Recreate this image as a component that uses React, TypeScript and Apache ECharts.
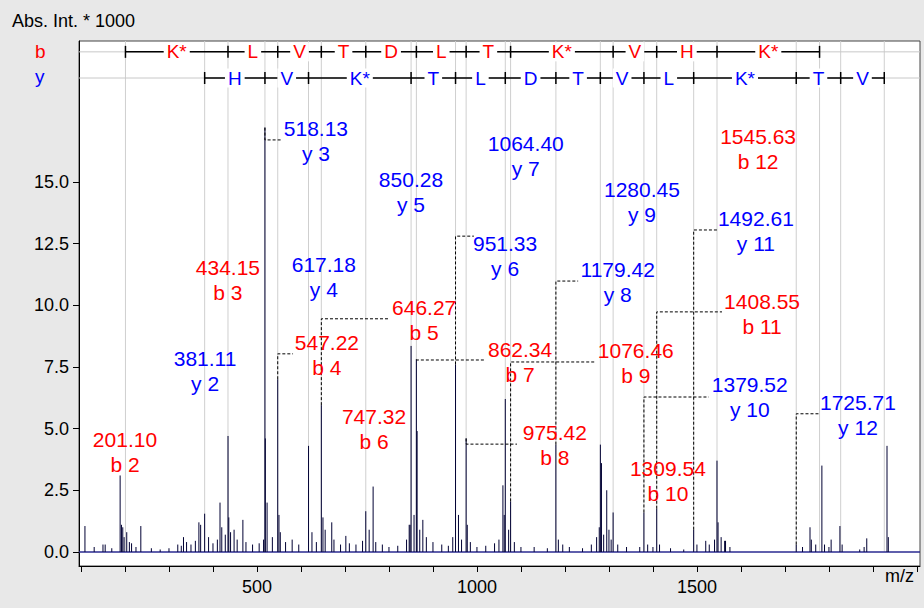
import React, { useEffect, useRef } from 'react';
import * as echarts from 'echarts';

// 主峰 [m/z, 强度(*1000)]
const mainPeaks: number[][] = [
  [109, 1.05], [155, 0.3], [189, 3.1], [192, 1.1], [204, 0.8], [236, 1.05],
  [333, 0.6], [368, 1.2], [381.1, 1.55], [416, 2.0], [434.2, 4.7], [436, 1.4],
  [448, 0.9], [468, 1.3], [518.1, 17.2], [519, 4.6], [547.2, 7.0], [550, 1.5],
  [617.2, 4.3], [646.3, 5.95], [650, 1.4], [670, 1.2], [702, 0.65], [747.3, 1.65],
  [764, 2.65], [846, 1.1], [850.3, 8.35], [862.3, 7.8], [864, 4.9], [877, 1.3],
  [951.3, 7.6], [975.4, 4.6], [978, 1.1], [1059, 2.7], [1064.4, 6.2], [1076.5, 2.05],
  [1179.4, 4.35], [1280.5, 4.35], [1283, 3.6], [1295, 2.5], [1309.5, 1.6],
  [1379.5, 1.6], [1408.6, 1.75], [1492.6, 0.9], [1545.6, 3.7], [1548, 1.2],
  [1563, 0.45], [1725.7, 0.3], [1757, 1.0], [1784, 3.5], [1805, 0.5], [1825, 1.05],
  [1886, 0.55], [1932, 4.3],
];

// 基线噪声峰
const noisePeaks: number[][] = [
  [130, 0.2], [150, 0.3], [170, 0.15], [195, 1.0], [198, 0.6], [210, 0.4], [215, 0.35],
  [225, 0.2], [260, 0.15], [280, 0.1], [300, 0.15], [320, 0.3], [328, 0.25], [340, 0.4],
  [350, 0.3], [360, 0.45], [372, 1.1], [390, 0.6], [400, 0.35], [410, 0.5], [420, 1.0],
  [428, 0.7], [440, 0.8], [455, 0.5], [475, 0.4], [490, 0.3], [505, 0.35], [515, 0.5],
  [523, 2.0], [535, 0.6], [553, 0.8], [565, 0.4], [580, 0.5], [595, 0.3], [625, 0.8],
  [635, 0.4], [655, 0.9], [675, 0.5], [690, 0.3], [710, 0.35], [725, 0.3], [740, 0.45],
  [755, 0.9], [770, 0.4], [785, 0.3], [800, 0.2], [820, 0.25], [840, 0.5], [848, 1.1],
  [857, 1.5], [870, 0.9], [885, 0.6], [900, 0.4], [920, 0.3], [935, 0.25], [945, 0.6],
  [958, 1.5], [965, 0.5], [985, 0.4], [1000, 0.2], [1020, 0.25], [1040, 0.35], [1050, 0.5],
  [1062, 1.5], [1072, 0.9], [1085, 0.4], [1100, 0.2], [1130, 0.2], [1160, 0.15], [1185, 0.5],
  [1195, 0.3], [1210, 0.2], [1240, 0.15], [1260, 0.3], [1272, 0.6], [1278, 1.0], [1288, 0.7],
  [1300, 0.9], [1305, 0.5], [1320, 0.3], [1340, 0.2], [1370, 0.2], [1388, 0.3], [1400, 0.2],
  [1415, 0.3], [1440, 0.15], [1470, 0.1], [1500, 0.3], [1520, 0.45], [1528, 0.3], [1540, 0.5],
  [1555, 0.6], [1565, 0.45], [1575, 0.2], [1740, 0.2], [1760, 0.5], [1770, 0.3], [1790, 0.3],
  [1800, 0.2], [1830, 0.3], [1870, 0.1], [1880, 0.2], [1935, 0.6],
];

// 序列梯
const bIons = [201.10, 434.15, 547.22, 646.27, 747.32, 862.34, 975.42, 1076.46, 1309.54, 1408.55, 1545.63, 1778.7];
const bResidues = ['K*', 'L', 'V', 'T', 'D', 'L', 'T', 'K*', 'V', 'H', 'K*'];
const yIons = [381.11, 518.13, 617.18, 850.28, 951.33, 1064.40, 1179.42, 1280.45, 1379.52, 1492.61, 1725.71, 1826.7, 1925.8];
const yResidues = ['H', 'V', 'K*', 'T', 'L', 'D', 'T', 'V', 'L', 'K*', 'T', 'V'];

// 标注: [文字, 系列, 标签m/z, 标签顶部y]
const ionLabels: [string, string, number, number][] = [
  ['201.10\nb 2', 'b', 200, 5.07], ['381.11\ny 2', 'y', 382, 8.35],
  ['434.15\nb 3', 'b', 434, 12.04], ['518.13\ny 3', 'y', 634, 17.67],
  ['617.18\ny 4', 'y', 652, 12.16], ['547.22\nb 4', 'b', 659, 9.0],
  ['850.28\ny 5', 'y', 850, 15.6], ['646.27\nb 5', 'b', 880, 10.42],
  ['747.32\nb 6', 'b', 766, 6.0], ['951.33\ny 6', 'y', 1064, 13.01],
  ['1064.40\ny 7', 'y', 1111, 17.07], ['862.34\nb 7', 'b', 1098, 8.72],
  ['975.42\nb 8', 'b', 1177, 5.35], ['1179.42\ny 8', 'y', 1320, 11.96],
  ['1280.45\ny 9', 'y', 1375, 15.2], ['1076.46\nb 9', 'b', 1361, 8.67],
  ['1309.54\nb 10', 'b', 1434, 3.89], ['1379.52\ny 10', 'y', 1620, 7.3],
  ['1408.55\nb 11', 'b', 1648, 10.66], ['1492.61\ny 11', 'y', 1634, 14.03],
  ['1545.63\nb 12', 'b', 1639, 17.35], ['1725.71\ny 12', 'y', 1866, 6.57],
];

// 引线: [峰m/z, 峰高, 引线y, 终点m/z]
const leaders: number[][] = [
  [518.1, 17.2, 16.7, 557], [547.2, 7.0, 8.03, 582], [646.3, 5.95, 9.45, 802],
  [862.3, 7.8, 7.78, 1020], [951.3, 7.6, 12.8, 993], [975.4, 4.6, 4.37, 1091],
  [1076.5, 2.05, 7.7, 1270], [1179.4, 4.35, 10.98, 1230], [1379.5, 1.6, 6.28, 1527],
  [1408.6, 1.75, 9.73, 1557], [1492.6, 0.9, 13.05, 1548], [1725.7, 0.3, 5.6, 1780],
];

const yTicks = [0, 2.5, 5, 7.5, 10, 12.5, 15];
const xTicks = [100, 200, 300, 400, 500, 600, 700, 800, 900, 1000, 1100, 1200, 1300, 1400, 1500, 1600, 1700, 1800, 1900, 2000];
const xLabels = [500, 1000, 1500];

const X_MIN = 95.5;
const X_MAX = 2007;
const Y_MIN = -0.57;
const Y_MAX = 20.71;
const B_ROW = 20.27;
const Y_ROW = 19.21;
const FONT = 'Liberation Sans, Arial, sans-serif';

const stickItem = (params: any, api: any) => {
  const p0 = api.coord([api.value(0), 0]);
  const p1 = api.coord([api.value(0), api.value(1)]);
  return {
    type: 'line',
    shape: { x1: p0[0], y1: p0[1], x2: p1[0], y2: p1[1] },
    style: { stroke: '#000033', lineWidth: 1 },
  };
};

const ladderItem = (ions: number[], residues: string[], row: number, color: string) => (params: any, api: any) => {
  const children: any[] = [];
  const yPix = api.coord([ions[0], row])[1];
  const l = api.coord([X_MIN, row])[0];
  const r = api.coord([X_MAX, row])[0];
  children.push({ type: 'line', shape: { x1: l, y1: yPix, x2: r, y2: yPix }, style: { stroke: '#c8c8c8', lineWidth: 1 } });
  ions.forEach((m) => {
    const x = api.coord([m, row])[0];
    children.push({ type: 'line', shape: { x1: x, y1: yPix - 6, x2: x, y2: yPix + 6 }, style: { stroke: '#000', lineWidth: 1.5 } });
  });
  residues.forEach((res, i) => {
    const x1 = api.coord([ions[i], row])[0];
    const x2 = api.coord([ions[i + 1], row])[0];
    children.push({ type: 'line', shape: { x1, y1: yPix, x2, y2: yPix }, style: { stroke: '#000', lineWidth: 1.5 } });
    children.push({
      type: 'text',
      x: (x1 + x2) / 2,
      y: yPix,
      style: {
        text: res, fill: color, font: `19px ${FONT}`, align: 'center', verticalAlign: 'middle',
        backgroundColor: '#fff', padding: [0, 3],
      },
    });
  });
  return { type: 'group', children };
};

const App: React.FC = () => {
  const chartRef = useRef<HTMLDivElement>(null);

  useEffect(() => {
    if (!chartRef.current) return;
    const chart = echarts.init(chartRef.current, undefined, { renderer: 'svg' });

    const allIons = [...bIons, ...yIons];

    const option: any = {
      animation: false,
      backgroundColor: '#e8e8e8',
      grid: {
        left: 79, top: 41, width: 841, height: 525, show: true,
        backgroundColor: '#fff', borderColor: '#444', borderWidth: 1,
      },
      xAxis: {
        type: 'value', min: X_MIN, max: X_MAX,
        axisLine: { show: true, onZero: false, lineStyle: { color: '#000' } },
        axisTick: { show: true, length: 6, customValues: xTicks, lineStyle: { color: '#000' } },
        axisLabel: {
          customValues: xLabels, color: '#000', fontSize: 18, fontFamily: FONT, margin: 12,
          formatter: (v: number) => String(v),
        },
        splitLine: { show: false },
      },
      yAxis: {
        type: 'value', min: Y_MIN, max: Y_MAX,
        axisLine: { show: true, onZero: false, lineStyle: { color: '#000' } },
        axisTick: { show: true, length: 6, customValues: yTicks, lineStyle: { color: '#000' } },
        axisLabel: {
          customValues: yTicks, color: '#000', fontSize: 18, fontFamily: FONT, margin: 10,
          formatter: (v: number) => v.toFixed(1),
        },
        splitLine: { show: false },
      },
      graphic: [
        { type: 'text', left: 12, top: 12, style: { text: 'Abs. Int. * 1000', fill: '#000', font: `18px ${FONT}` } },
        { type: 'text', left: 885, top: 567, style: { text: 'm/z', fill: '#000', font: `18px ${FONT}` } },
        { type: 'text', left: 35, top: 42, style: { text: 'b', fill: '#ff0000', font: `19px ${FONT}` } },
        { type: 'text', left: 35, top: 67, style: { text: 'y', fill: '#0000ff', font: `19px ${FONT}` } },
      ],
      series: [
        {
          // 离子位置灰线
          type: 'custom', silent: true, data: allIons.map((m) => [m]),
          renderItem: (params: any, api: any) => {
            const p0 = api.coord([api.value(0), 0]);
            const p1 = api.coord([api.value(0), Y_MAX]);
            return { type: 'line', shape: { x1: p0[0], y1: p0[1], x2: p1[0], y2: p1[1] }, style: { stroke: '#cfcfcf', lineWidth: 1 } };
          },
          z: 1,
        },
        {
          type: 'line', silent: true, symbol: 'none', data: [[X_MIN, 0], [X_MAX, 0]],
          lineStyle: { color: '#2a2a90', width: 1.5 }, z: 2,
        },
        { type: 'custom', silent: true, data: noisePeaks, renderItem: stickItem, z: 3 },
        { type: 'custom', silent: true, data: mainPeaks, renderItem: stickItem, z: 3 },
        {
          // 引线
          type: 'custom', silent: true, data: leaders,
          renderItem: (params: any, api: any) => {
            const a = api.coord([api.value(0), api.value(1)]);
            const b = api.coord([api.value(0), api.value(2)]);
            const c = api.coord([api.value(3), api.value(2)]);
            return {
              type: 'polyline',
              shape: { points: [a, b, c] },
              style: { stroke: '#000', lineWidth: 1, lineDash: [3, 2], fill: 'none' },
            };
          },
          z: 4,
        },
        { type: 'custom', silent: true, data: [[0]], renderItem: ladderItem(bIons, bResidues, B_ROW, '#ff0000'), z: 5 },
        { type: 'custom', silent: true, data: [[0]], renderItem: ladderItem(yIons, yResidues, Y_ROW, '#0000ff'), z: 5 },
        {
          // 峰标注
          type: 'custom', silent: true,
          data: ionLabels.map((d) => [d[2], d[3]]),
          renderItem: (params: any, api: any) => {
            const lab = ionLabels[params.dataIndex];
            const p = api.coord([lab[2], lab[3]]);
            return {
              type: 'text', x: p[0], y: p[1],
              style: {
                text: lab[0], fill: lab[1] === 'b' ? '#ff0000' : '#0000ff',
                font: `21px ${FONT}`, align: 'center', verticalAlign: 'top', lineHeight: 25,
              },
            };
          },
          z: 6,
        },
      ],
    };

    chart.setOption(option);
    return () => chart.dispose();
  }, []);

  return (
    <div
      ref={chartRef}
      style={{ position: 'fixed', left: 0, top: 0, width: 924, height: 608 }}
    />
  );
};

export default App;
